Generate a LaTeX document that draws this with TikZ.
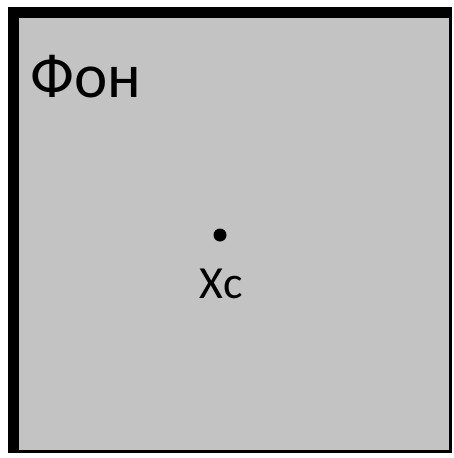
\documentclass[tikz,border=0pt]{standalone}
\usepackage{fontspec}
\setmainfont{Carlito}
\usetikzlibrary{positioning}
\definecolor{fongray}{RGB}{195,195,195}
\tikzset{%
  % styles of the frame and the labels
     frameband/.style = {fill=black, draw=none},
     fonfield/.style = {fill=fongray, draw=none},
     biglabel/.style = {inner sep=0pt, anchor=base west,
                        font=\fontsize{63}{63}\selectfont},
    pointlabel/.style = {inner sep=0pt, anchor=base,
                        font=\fontsize{46}{46}\selectfont},
     centerdot/.style = {circle, fill=black, inner sep=0pt, minimum size=13pt},
}
\begin{document}
\begin{tikzpicture}[x=1pt, y=-1pt]
  \useasboundingbox (0,0) rectangle (454,458);
  % frame and background field
  \fill[white] (0,0) rectangle (454,458);
  \path[frameband] (8,7) rectangle (452,453);
  \path[fonfield] (19,18) rectangle (449,450);
  % labels and point
  \node (fon)    [biglabel] at (30,97) {Фон};
  \node (center) [centerdot] at (220,235) {};
  \node (xc)     [pointlabel] at (221,298) {Xc};
\end{tikzpicture}
\end{document}
